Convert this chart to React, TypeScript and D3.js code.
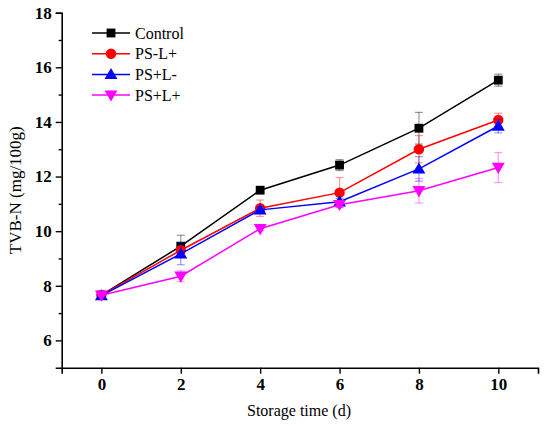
import * as d3 from 'd3';
import React from 'react';
import { useEffect, useRef } from 'react';

// storage days
const days = [0, 2, 4, 6, 8, 10];

const seriesNames = ['Control', 'PS-L+', 'PS+L-', 'PS+L+'];
const seriesColors = ['#000000', '#ff0000', '#0000ff', '#ff00ff'];
const seriesSymbols = ['square', 'circle', 'triangleUp', 'triangleDown'];

const controlValues = [7.66, 9.45, 11.5, 12.42, 13.77, 15.53];
const controlErrors = [0.06, 0.4, 0.08, 0.2, 0.58, 0.22];
const psLplusValues = [7.66, 9.3, 10.84, 11.41, 13.0, 14.07];
const psLplusErrors = [0.06, 0.12, 0.3, 0.55, 0.5, 0.25];
const psplusLminusValues = [7.64, 9.17, 10.78, 11.08, 12.28, 13.85];
const psplusLminusErrors = [0.06, 0.4, 0.12, 0.12, 0.45, 0.25];
const psplusLplusValues = [7.65, 8.35, 10.09, 10.97, 11.48, 12.33];
const psplusLplusErrors = [0.06, 0.2, 0.08, 0.1, 0.45, 0.55];

const yTicks = [6, 8, 10, 12, 14, 16, 18];
const yMinorTicks = [7, 9, 11, 13, 15, 17];
const xTicks = [0, 2, 4, 6, 8, 10];

const allValues = [controlValues, psLplusValues, psplusLminusValues, psplusLplusValues];
const allErrors = [controlErrors, psLplusErrors, psplusLminusErrors, psplusLplusErrors];

export default function App() {
    const ref = useRef<any>();

    useEffect(() => {
        document.body.style.margin = '0';
        const width = 550;
        const height = 426;
        const margin = { top: 12.7, right: 12, bottom: 58.3, left: 61.7 };

        const svg = d3.select<any, any>(ref.current)
            .attr('width', width)
            .attr('height', height)
            .style('font-family', "'Liberation Serif', 'DejaVu Serif', serif");
        svg.selectAll('*').remove();

        const xScale = d3.scaleLinear().domain([-1, 11]).range([margin.left, width - margin.right]);
        const yScale = d3.scaleLinear().domain([5, 18]).range([height - margin.bottom, margin.top]);

        // axes
        const xAxis = d3.axisBottom(xScale).tickValues(xTicks).tickSize(6).tickPadding(4).tickFormat(d3.format('d'));
        const gx = svg.append('g')
            .attr('transform', `translate(0, ${height - margin.bottom})`)
            .call(xAxis);
        const yAxis = d3.axisLeft(yScale).tickValues(yTicks).tickSize(6).tickPadding(4).tickFormat(d3.format('d'));
        const gy = svg.append('g')
            .attr('transform', `translate(${margin.left}, 0)`)
            .call(yAxis);
        const yMinor = d3.axisLeft(yScale).tickValues(yMinorTicks).tickSize(3).tickFormat(() => '');
        svg.append('g')
            .attr('transform', `translate(${margin.left}, 0)`)
            .call(yMinor)
            .select('.domain').remove();

        svg.selectAll('g').attr('font-family', null);
        [gx, gy].forEach((g) => {
            g.select('.domain').attr('stroke-width', 1.6);
            g.selectAll('.tick text')
                .style('font-size', '17px')
                .style('font-weight', 'bold')
                .attr('fill', '#000');
        });
        svg.selectAll('.tick line').attr('stroke-width', 1.4);

        // axis titles
        svg.append('text')
            .attr('x', 299)
            .attr('y', 416)
            .attr('text-anchor', 'middle')
            .style('font-size', '16px')
            .text('Storage time (d)');
        svg.append('text')
            .attr('transform', `translate(21, ${(margin.top + height - margin.bottom) / 2}) rotate(-90)`)
            .attr('text-anchor', 'middle')
            .style('font-size', '17px')
            .text('TVB-N (mg/100g)');

        const symbolFor = (s: string) => {
            if (s === 'square') return d3.symbol(d3.symbolSquare, 78)();
            if (s === 'circle') return d3.symbol(d3.symbolCircle, 85)();
            return d3.symbol(d3.symbolTriangle, 72)();
        };
        const symbolTransform = (s: string, x: number, y: number) => {
            const dy = s === 'triangleUp' ? 1 : s === 'triangleDown' ? -1 : 0;
            return `translate(${x}, ${y + dy})${s === 'triangleDown' ? ' rotate(180)' : ''}`;
        };

        const line = d3.line<number>()
            .x((d, i) => xScale(days[i]))
            .y((d) => yScale(d));

        const dataArea = svg.append('g').attr('class', 'data');

        allValues.forEach((vals, si) => {
            const color = seriesColors[si];
            const errs = allErrors[si];
            const g = dataArea.append('g');

            // error bars
            const eb = g.selectAll('.err').data(vals).join('g').attr('class', 'err')
                .attr('stroke', color)
                .attr('stroke-opacity', 0.4)
                .attr('stroke-width', 1.2);
            eb.append('line')
                .attr('x1', (d, i) => xScale(days[i]))
                .attr('x2', (d, i) => xScale(days[i]))
                .attr('y1', (d, i) => yScale(d - errs[i]))
                .attr('y2', (d, i) => yScale(d + errs[i]));
            eb.append('line')
                .attr('x1', (d, i) => xScale(days[i]) - 4)
                .attr('x2', (d, i) => xScale(days[i]) + 4)
                .attr('y1', (d, i) => yScale(d + errs[i]))
                .attr('y2', (d, i) => yScale(d + errs[i]));
            eb.append('line')
                .attr('x1', (d, i) => xScale(days[i]) - 4)
                .attr('x2', (d, i) => xScale(days[i]) + 4)
                .attr('y1', (d, i) => yScale(d - errs[i]))
                .attr('y2', (d, i) => yScale(d - errs[i]));

            g.append('path')
                .datum(vals)
                .attr('d', line as any)
                .attr('fill', 'none')
                .attr('stroke', color)
                .attr('stroke-width', 1.5);

            const sym = seriesSymbols[si];
            g.selectAll('.pt').data(vals).join('path').attr('class', 'pt')
                .attr('d', symbolFor(sym))
                .attr('fill', color)
                .attr('transform', (d, i) => symbolTransform(sym, xScale(days[i]), yScale(d)));
        });

        // legend
        const legend = svg.append('g');
        seriesNames.forEach((name, i) => {
            const yy = 33 + i * 20.7;
            const color = seriesColors[i];
            const sym = seriesSymbols[i];
            legend.append('line')
                .attr('x1', 92).attr('x2', 130)
                .attr('y1', yy).attr('y2', yy)
                .attr('stroke', color).attr('stroke-width', 1.5);
            legend.append('path')
                .attr('d', symbolFor(sym))
                .attr('fill', color)
                .attr('transform', symbolTransform(sym, 111, yy));
            legend.append('text')
                .attr('x', 135)
                .attr('y', yy + 5.5)
                .style('font-size', '16px')
                .text(name);
        });
    }, []);

    return (
        <React.Fragment>
            <svg ref={ref}></svg>
        </React.Fragment>
    );
}
